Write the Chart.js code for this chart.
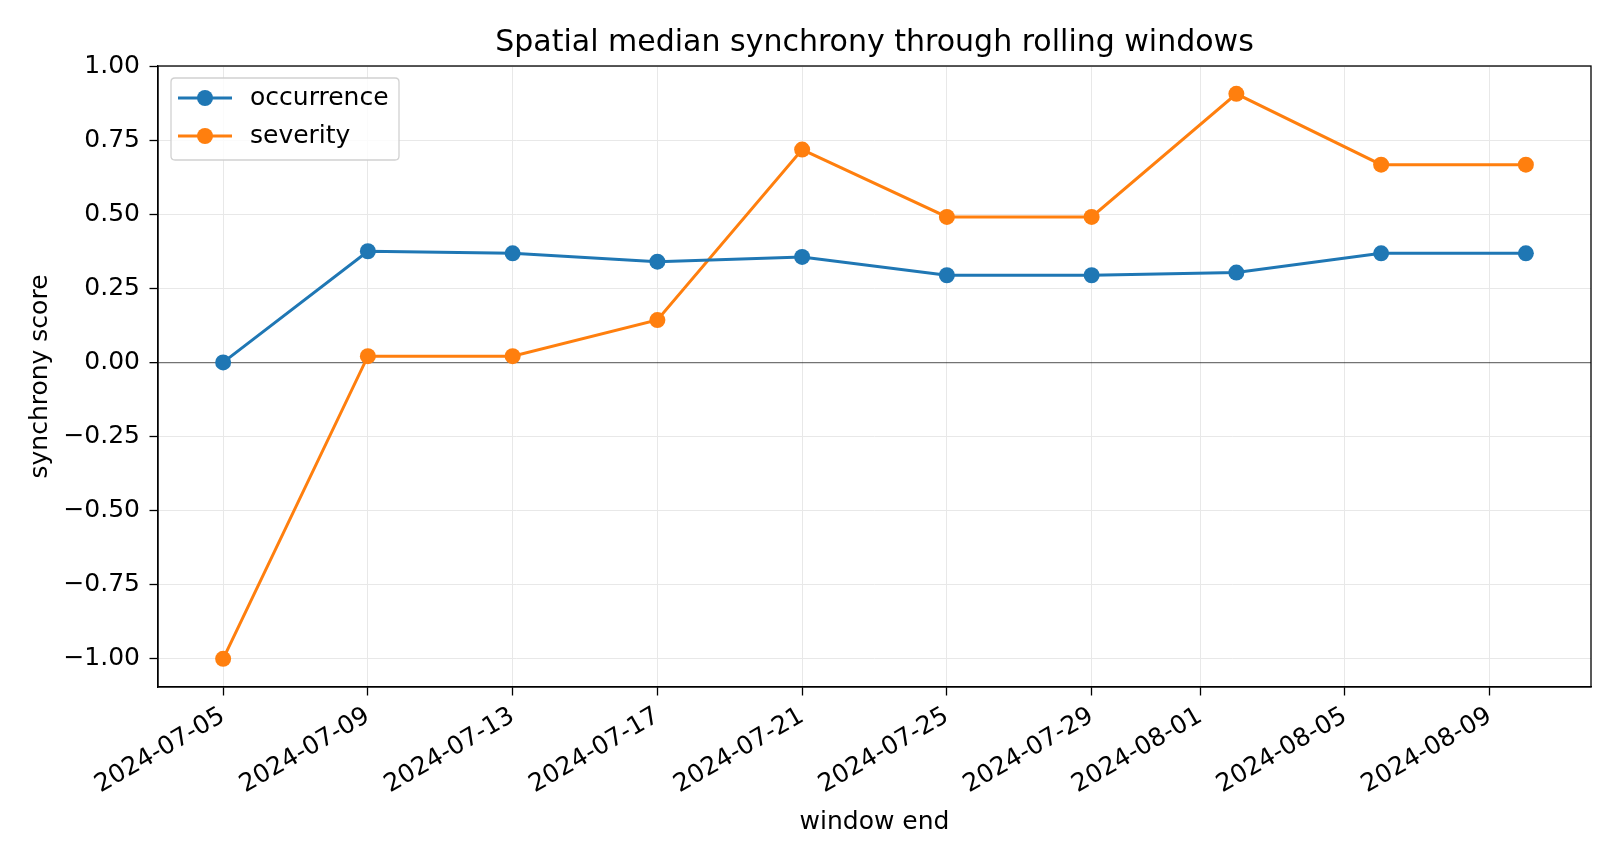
<!DOCTYPE html>
<html>
<head>
<meta charset="utf-8">
<script src="https://cdn.jsdelivr.net/npm/chart.js@4.4.1/dist/chart.umd.min.js"></script>
<style>
html,body{margin:0;padding:0;background:#fff;}
#c{display:block;}
</style>
</head>
<body>
<canvas id="c" width="1620" height="864"></canvas>
<script>
// ---- data ----
const windowEnd = ['2024-07-05','2024-07-09','2024-07-13','2024-07-17','2024-07-21','2024-07-25','2024-07-29','2024-08-02','2024-08-06','2024-08-10'];
const occurrence = [0.00, 0.375, 0.368, 0.340, 0.356, 0.294, 0.294, 0.303, 0.368, 0.368];
const severity = [-1.00, 0.021, 0.021, 0.143, 0.718, 0.491, 0.491, 0.906, 0.667, 0.667];
const xTickLabels = ['2024-07-05','2024-07-09','2024-07-13','2024-07-17','2024-07-21','2024-07-25','2024-07-29','2024-08-01','2024-08-05','2024-08-09'];
const yTickValues = [-1.00,-0.75,-0.50,-0.25,0.00,0.25,0.50,0.75,1.00];

const DAY = 86400000;
const base = Date.UTC(2024,6,5);
function dayOf(s){ const p = s.split('-'); return (Date.UTC(+p[0], +p[1]-1, +p[2]) - base)/DAY; }
const labelByDay = {};
xTickLabels.forEach(s => { labelByDay[dayOf(s)] = s; });

const FONT = "'DejaVu Sans', sans-serif";
Chart.defaults.font.family = FONT;
Chart.defaults.color = '#000';

const frame = {
  id: 'frame',
  afterDraw(chart){
    const {ctx, chartArea:a} = chart;
    ctx.save();
    ctx.strokeStyle = '#000';
    ctx.lineWidth = 1.3;
    ctx.strokeRect(a.left, a.top, a.right - a.left, a.bottom - a.top);
    // legend
    const x0 = a.left + 13, y0 = a.top + 12, w = 228, h = 82;
    ctx.fillStyle = 'rgba(255,255,255,0.8)';
    ctx.strokeStyle = 'rgba(204,204,204,0.9)';
    ctx.lineWidth = 1.3;
    const r = 4;
    ctx.beginPath();
    ctx.moveTo(x0+r,y0); ctx.lineTo(x0+w-r,y0); ctx.quadraticCurveTo(x0+w,y0,x0+w,y0+r);
    ctx.lineTo(x0+w,y0+h-r); ctx.quadraticCurveTo(x0+w,y0+h,x0+w-r,y0+h);
    ctx.lineTo(x0+r,y0+h); ctx.quadraticCurveTo(x0,y0+h,x0,y0+h-r);
    ctx.lineTo(x0,y0+r); ctx.quadraticCurveTo(x0,y0,x0+r,y0);
    ctx.closePath(); ctx.fill(); ctx.stroke();
    chart.data.datasets.forEach((ds, i) => {
      const cy = y0 + 20 + i*38;
      ctx.strokeStyle = ds.borderColor; ctx.lineWidth = 3;
      ctx.beginPath(); ctx.moveTo(x0+7, cy); ctx.lineTo(x0+61, cy); ctx.stroke();
      ctx.fillStyle = ds.backgroundColor;
      ctx.beginPath(); ctx.arc(x0+34, cy, 8, 0, Math.PI*2); ctx.fill();
      ctx.fillStyle = '#000';
      ctx.font = "25px " + FONT;
      ctx.textBaseline = 'middle'; ctx.textAlign = 'left';
      ctx.fillText(ds.label, x0+79, cy);
    });
    ctx.restore();
  }
};

new Chart(document.getElementById('c'), {
  type: 'line',
  data: {
    datasets: [
      { label: 'occurrence', data: windowEnd.map((d,i)=>({x: dayOf(d), y: occurrence[i]})),
        borderColor: '#1f77b4', backgroundColor: '#1f77b4', borderWidth: 3,
        pointRadius: 8, pointHoverRadius: 8, pointBorderWidth: 0, tension: 0 },
      { label: 'severity', data: windowEnd.map((d,i)=>({x: dayOf(d), y: severity[i]})),
        borderColor: '#ff7f0e', backgroundColor: '#ff7f0e', borderWidth: 3,
        pointRadius: 8, pointHoverRadius: 8, pointBorderWidth: 0, tension: 0 }
    ]
  },
  options: {
    responsive: false,
    animation: false,
    events: [],
    layout: { padding: { left: 0, right: 29, top: 0, bottom: 0 } },
    plugins: {
      legend: { display: false },
      tooltip: { enabled: false },
      title: {
        display: true, fullSize: false,
        text: 'Spatial median synchrony through rolling windows',
        font: { size: 30, weight: 'normal', family: FONT },
        color: '#000',
        padding: { top: 25.3, bottom: 4.7 }
      }
    },
    scales: {
      x: {
        type: 'linear',
        min: -1.8, max: 37.8,
        afterBuildTicks: s => { s.ticks = xTickLabels.map(t => ({ value: dayOf(t) })); },
        afterFit: s => { s.height = 177; },
        ticks: {
          autoSkip: false, minRotation: 30, maxRotation: 30,
          font: { size: 25 }, color: '#000', padding: 6,
          callback: v => labelByDay[v] || ''
        },
        grid: { color: '#e8e8e8', lineWidth: 1, tickColor: '#000', tickLength: 8.5, tickWidth: 1.3 },
        border: { display: true, color: '#000', width: 1.3 },
        title: { display: true, text: 'window end', font: { size: 25 }, color: '#000', padding: { top: 27, bottom: 27 } }
      },
      y: {
        type: 'linear',
        min: -1.095, max: 1.0,
        afterBuildTicks: s => { s.ticks = yTickValues.map(v => ({ value: v })); },
        afterFit: s => { s.width = 158; },
        ticks: {
          font: { size: 25 }, color: '#000', padding: 9.5,
          callback: v => v.toFixed(2).replace('-', '\u2212')
        },
        grid: {
          color: c => (c.tick && c.tick.value === 0) ? 'rgba(0,0,0,0.55)' : '#e8e8e8',
          lineWidth: c => (c.tick && c.tick.value === 0) ? 1.3 : 1,
          tickColor: '#000', tickLength: 8.5, tickWidth: 1.3
        },
        border: { display: true, color: '#000', width: 1.3 },
        title: { display: true, text: 'synchrony score', font: { size: 25 }, color: '#000', padding: { top: 25, bottom: 0 } }
      }
    }
  },
  plugins: [frame]
});
</script>
</body>
</html>
